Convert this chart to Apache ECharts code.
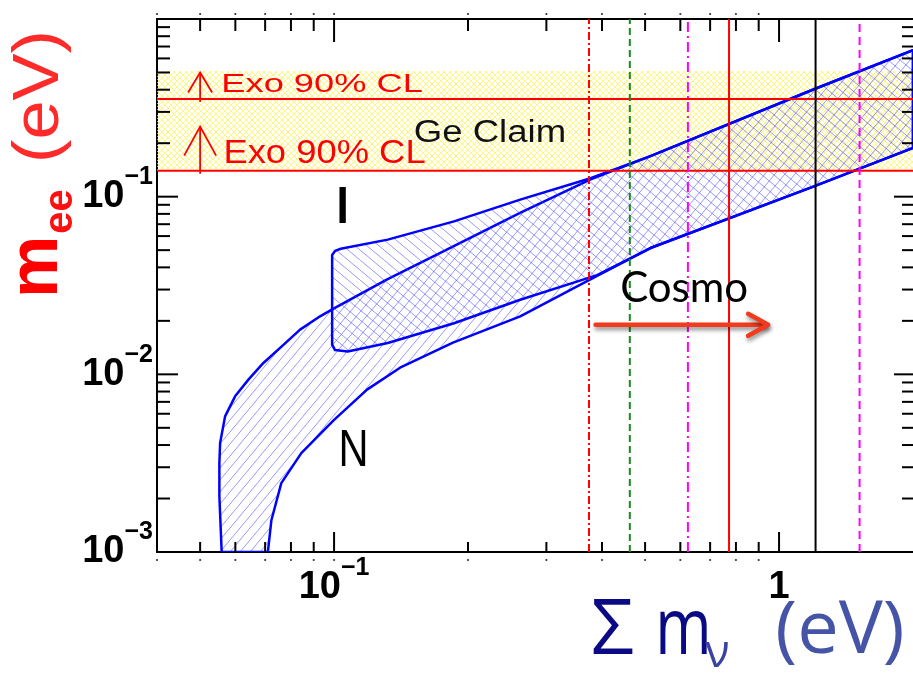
<!DOCTYPE html>
<html><head><meta charset="utf-8">
<script src="https://cdn.jsdelivr.net/npm/echarts@6/dist/echarts.min.js"></script>
<style>html,body{margin:0;padding:0;background:#fff;}#c{width:913px;height:675px;}</style>
</head><body><div id="c"></div>
<script>
// ---------------- data ----------------
const xRange = [0.04, 2];
const yRange = [0.001, 1];
const xMajorTicks = [0.1, 1];
const xMinorTicks = [0.05,0.06,0.07,0.08,0.09,0.2,0.3,0.4,0.5,0.6,0.7,0.8,0.9];
const xDotTicks = [0.04,0.05,0.06,0.07,0.08,0.09,0.1,0.2,0.3,0.4,0.5,0.6,0.7,0.8,0.9];
const yMajorTicks = [0.01, 0.1];
const yMinorTicks = [0.002,0.003,0.004,0.005,0.006,0.007,0.008,0.009,
                     0.02,0.03,0.04,0.05,0.06,0.07,0.08,0.09,
                     0.2,0.3,0.4,0.5,0.6,0.7,0.8,0.9];
const xLabelValues = [0.1, 1];
const xLabelBase = ['10', '1'];
const xLabelExp = ['\u22121', ''];
const yLabelValues = [0.001, 0.01, 0.1];
const yLabelBase = ['10', '10', '10'];
const yLabelExp = ['\u22123', '\u22122', '\u22121'];

// Normal hierarchy region (N): upper edge left->right, then lower edge right->left
const normalBoundary = [
  [0.0559,0.001],[0.05524,0.00206],[0.05524,0.00317],[0.05545,0.00411],[0.05689,0.0058],[0.05992,0.00752],
  [0.06419,0.00934],[0.06937,0.01159],[0.07628,0.01437],[0.08387,0.01785],[0.09301,0.02121],[0.09881,0.02312],
  [0.1313,0.03411],[0.1853,0.05251],[0.2618,0.08094],[0.3762,0.1246],[0.514,0.169],[1.194,0.401],[2,0.667],
  [2,0.188],[1.194,0.114],[0.514,0.0514],[0.39,0.0358],[0.262,0.0212],[0.185,0.01508],[0.1407,0.0109],
  [0.1186,0.0082],[0.1,0.00554],[0.0844,0.0036],[0.0761,0.00244],[0.0723,0.00151],[0.071,0.001]
];
// Inverted hierarchy region (I)
const invertedBoundary = [
  [0.099,0.0147],[0.099,0.047],[0.1005,0.0495],[0.1035,0.0509],[0.132,0.0573],[0.186,0.0726],
  [0.262,0.0962],[0.377,0.127],[0.514,0.169],[1.194,0.401],[2,0.667],
  [2,0.188],[1.194,0.114],[0.514,0.0514],[0.39,0.0362],[0.262,0.0263],[0.186,0.0194],[0.132,0.015],
  [0.1073,0.01344],[0.1005,0.0137]
];
const geClaimBand = [0.14, 0.51];
const exoLimits = [0.355, 0.14];
const vLineValues = [0.374, 0.462, 0.624, 0.772, 1.208, 1.517];
const exoArrowX = [0.05, 0.05];
const exoArrowBase = [0.355, 0.14];
const exoArrowTip = [0.5, 0.248];
const cosmoArrowX = [0.387, 0.945];
const cosmoArrowY = [0.019, 0.019];
const annotTexts = ['Exo 90% CL', 'Exo 90% CL', 'Ge Claim', 'I', 'N', 'Cosmo'];
const annotX = [0.0558, 0.0564, 0.151, 0.1045, 0.1106, 0.612];
const annotY = [0.422, 0.1747, 0.228, 0.0856, 0.00366, 0.0303];

// ---------------- styles ----------------
const vLineStyles = [
  {color:'#ff0000', type:[8,3,2,3]},
  {color:'#1a8a1a', type:[7,4]},
  {color:'#ff00ff', type:[10,4,2,4]},
  {color:'#ff0000', type:'solid'},
  {color:'#000000', type:'solid'},
  {color:'#ff00ff', type:[8,5]}
];
const annotStyles = [
  {font:'25px "Liberation Sans"', fill:'#ff0000', align:'left', sx:1.45},
  {font:'34px "Liberation Sans"', fill:'#ff0000', align:'left', sx:1.07},
  {font:'31px "Liberation Sans"', fill:'#111111', align:'left', sx:1.18},
  {font:'bold 52px "Liberation Sans"', fill:'#000000', align:'center', sx:0.85},
  {font:'52px "Liberation Sans"', fill:'#000000', align:'center', sx:0.8},
  {font:'42px Lato', fill:'#000000', align:'center', sx:1}
];
const exoHead = [[20,12],[29,16]];

function hatch(w, h, color, lw, dirs) {
  const c = document.createElement('canvas');
  c.width = w; c.height = h;
  const g = c.getContext('2d');
  g.strokeStyle = color; g.lineWidth = lw;
  g.beginPath();
  dirs.forEach(d => {
    [-w, 0, w].forEach(off => {
      if (d === '/') { g.moveTo(off, h); g.lineTo(off + w, 0); }
      else { g.moveTo(off, 0); g.lineTo(off + w, h); }
    });
  });
  g.stroke();
  return {image: c, repeat: 'repeat'};
}
const yellowPat = hatch(6, 6, 'rgba(255,245,70,0.7)', 1, ['/','\\']);
const normalPat = hatch(10, 12, 'rgba(70,70,255,0.55)', 1, ['/']);
const invertedPat = hatch(12, 10, 'rgba(70,70,255,0.55)', 1, ['\\']);

function labelFmt(values, base, exp) {
  return function (v) {
    const lv = Math.log10(v);
    for (let i = 0; i < values.length; i++) {
      if (Math.abs(lv - Math.log10(values[i])) < 1e-6) {
        return exp[i] ? '{b|' + base[i] + '}{s|' + exp[i] + '}' : '{b|' + base[i] + '}';
      }
    }
    return '';
  };
}
const labelRich = {
  b: {fontSize:38, fontWeight:'bold', fontFamily:'Liberation Sans', color:'#000', lineHeight:64, verticalAlign:'middle'},
  s: {fontSize:25, fontWeight:'bold', fontFamily:'Liberation Sans', color:'#000', lineHeight:24, verticalAlign:'top'}
};

function polySeries(points, pattern, z) {
  return {
    type:'custom', xAxisIndex:0, yAxisIndex:0, z:z, silent:true, clip:true,
    data: points,
    renderItem: function (params, api) {
      if (params.dataIndex !== 0) return null;
      const pts = points.map(p => api.coord(p));
      return {type:'polygon', shape:{points: pts},
        style:{fill: pattern, stroke:'#0000ff', lineWidth:2.5, lineJoin:'round'}};
    }
  };
}

const series = [];
// Ge claim band
series.push({
  type:'custom', z:1, silent:true, data:[[xRange[0], geClaimBand[0]],[xRange[1], geClaimBand[1]]],
  renderItem: function (params, api) {
    if (params.dataIndex !== 0) return null;
    const a = api.coord([xRange[0], geClaimBand[1]]);
    const b = api.coord([xRange[1], geClaimBand[0]]);
    return {type:'rect', shape:{x:a[0], y:a[1], width:b[0]-a[0], height:b[1]-a[1]}, style:{fill: yellowPat}};
  }
});
series.push(polySeries(normalBoundary, normalPat, 2));
series.push(polySeries(invertedBoundary, invertedPat, 2));
// horizontal Exo lines
exoLimits.forEach(v => series.push({
  type:'line', z:3, silent:true, symbol:'none', animation:false,
  data:[[xRange[0], v],[xRange[1], v]], lineStyle:{color:'#ff0000', width:2}
}));
// vertical lines
vLineValues.forEach((v, i) => series.push({
  type:'line', z:3, silent:true, symbol:'none', animation:false,
  data:[[v, yRange[0]],[v, yRange[1]]],
  lineStyle:{color:vLineStyles[i].color, width:2, type:vLineStyles[i].type}
}));
// exo arrows
series.push({
  type:'custom', z:5, silent:true, data: exoArrowX.map((x, i) => [x, exoArrowTip[i]]),
  renderItem: function (params, api) {
    const i = params.dataIndex;
    const b = api.coord([exoArrowX[i], exoArrowBase[i]]);
    const t = api.coord([exoArrowX[i], exoArrowTip[i]]);
    const h = exoHead[i];
    return {type:'group', children:[
      {type:'line', shape:{x1:b[0], y1:b[1]+3, x2:t[0], y2:t[1]}, style:{stroke:'#ff0000', lineWidth:1.8}},
      {type:'polyline', shape:{points:[[t[0]-h[1], t[1]+h[0]],[t[0], t[1]],[t[0]+h[1], t[1]+h[0]]]},
        style:{stroke:'#ff0000', lineWidth:1.8, fill:null}}
    ]};
  }
});
// cosmo arrow
series.push({
  type:'custom', z:5, silent:true, data: cosmoArrowX.map((x, i) => [x, cosmoArrowY[i]]),
  renderItem: function (params, api) {
    if (params.dataIndex !== 0) return null;
    const a = api.coord([cosmoArrowX[0], cosmoArrowY[0]]);
    const b = api.coord([cosmoArrowX[1], cosmoArrowY[1]]);
    const st = {stroke:'#f23a1c', lineWidth:4.5, lineCap:'round', lineJoin:'round', fill:null,
      shadowBlur:4, shadowColor:'rgba(0,0,0,0.45)', shadowOffsetX:1, shadowOffsetY:3};
    return {type:'group', children:[
      {type:'line', shape:{x1:a[0], y1:a[1], x2:b[0]-2, y2:b[1]}, style:st},
      {type:'polyline', shape:{points:[[b[0]-20, b[1]-11],[b[0], b[1]],[b[0]-20, b[1]+11]]}, style:st}
    ]};
  }
});
// annotations
series.push({
  type:'custom', z:6, silent:true, data: annotX.map((x, i) => [x, annotY[i]]),
  renderItem: function (params, api) {
    const i = params.dataIndex;
    const p = api.coord([annotX[i], annotY[i]]);
    const s = annotStyles[i];
    return {type:'text', x:p[0], y:p[1], scaleX:s.sx,
      style:{text:annotTexts[i], font:s.font, fill:s.fill, textAlign:s.align, textVerticalAlign:'middle'}};
  }
});
// x ticks
const xTickAll = xMajorTicks.concat(xMinorTicks);
series.push({
  type:'custom', z:7, silent:true, clip:false, data: xTickAll.map(v => [v, yRange[0]]),
  renderItem: function (params, api) {
    const v = xTickAll[params.dataIndex];
    const major = xMajorTicks.indexOf(v) >= 0;
    const cs = params.coordSys;
    const px = api.coord([v, yRange[0]])[0];
    const bot = cs.y + cs.height, top = cs.y;
    const lb = major ? 20 : 10, lt = major ? 23 : 12;
    return {type:'group', children:[
      {type:'line', shape:{x1:px, y1:bot, x2:px, y2:bot-lb}, style:{stroke:'#000', lineWidth:2}},
      {type:'line', shape:{x1:px, y1:top, x2:px, y2:top+lt}, style:{stroke:'#000', lineWidth:2}}
    ]};
  }
});
// tick dots
series.push({
  type:'custom', z:7, silent:true, clip:false, data: xDotTicks.map(v => [v, yRange[0]]),
  renderItem: function (params, api) {
    const v = xDotTicks[params.dataIndex];
    const cs = params.coordSys;
    const px = api.coord([v, yRange[0]])[0];
    return {type:'group', children:[
      {type:'circle', shape:{cx:px, cy:cs.y + cs.height + 8, r:1.1}, style:{fill:'#333'}},
      {type:'circle', shape:{cx:px, cy:cs.y - 5, r:1.1}, style:{fill:'#333'}}
    ]};
  }
});
// y ticks
const yTickAll = yMajorTicks.concat(yMinorTicks);
series.push({
  type:'custom', z:7, silent:true, clip:false, data: yTickAll.map(v => [xRange[0], v]),
  renderItem: function (params, api) {
    const v = yTickAll[params.dataIndex];
    const major = yMajorTicks.indexOf(v) >= 0;
    const cs = params.coordSys;
    const py = api.coord([xRange[0], v])[1];
    const l = cs.x, r = cs.x + cs.width;
    const ll = major ? 21 : 13, lr = major ? 19 : 11;
    return {type:'group', children:[
      {type:'line', shape:{x1:l, y1:py, x2:l+ll, y2:py}, style:{stroke:'#000', lineWidth:2}},
      {type:'line', shape:{x1:r, y1:py, x2:r-lr, y2:py}, style:{stroke:'#000', lineWidth:2}}
    ]};
  }
});

const option = {
  animation:false,
  backgroundColor:'#ffffff',
  grid:{left:157, right:0, top:19, bottom:123, containLabel:false, outerBoundsMode:'none'},
  xAxis:[
    {type:'log', logBase:10, min:xRange[0], max:xRange[1], position:'bottom',
      axisLine:{show:true, lineStyle:{color:'#000', width:2}},
      axisTick:{show:false}, splitLine:{show:false}, minorTick:{show:false},
      axisLabel:{show:true, margin:4, formatter:labelFmt(xLabelValues, xLabelBase, xLabelExp), rich:labelRich,
        showMinLabel:true, showMaxLabel:true, hideOverlap:false}},
    {type:'log', logBase:10, min:xRange[0], max:xRange[1], position:'top',
      axisLine:{show:true, onZero:false, lineStyle:{color:'#000', width:2}},
      axisTick:{show:false}, splitLine:{show:false}, axisLabel:{show:false}}
  ],
  yAxis:[
    {type:'log', logBase:10, min:yRange[0], max:yRange[1], position:'left',
      axisLine:{show:true, onZero:false, lineStyle:{color:'#000', width:2}},
      axisTick:{show:false}, splitLine:{show:false},
      axisLabel:{show:true, margin:4, formatter:labelFmt(yLabelValues, yLabelBase, yLabelExp), rich:labelRich,
        showMinLabel:true, showMaxLabel:true, hideOverlap:false}}
  ],
  graphic:[
    {type:'group', x:0, y:300, rotation:Math.PI/2, silent:true, children:[
      {type:'text', x:33, y:38, style:{text:'m', font:'bold 70px "Liberation Sans"', fill:'#ff0000', textAlign:'center', textVerticalAlign:'middle'}},
      {type:'text', x:88.5, y:61, style:{text:'ee', font:'bold 40px "Liberation Sans"', fill:'#ff1010', textAlign:'center', textVerticalAlign:'middle'}},
      {type:'text', x:203.5, y:40, scaleX:1.1, style:{text:'(eV)', font:'64px "Liberation Sans"', fill:'#ff2a2a', textAlign:'center', textVerticalAlign:'middle'}}
    ]},
    {type:'text', x:612.5, y:632.5, silent:true, style:{text:'\u03A3', font:'76px "Open Sans"', fill:'#0a0a85', textAlign:'center', textVerticalAlign:'middle'}},
    {type:'text', x:683.5, y:631.7, scaleX:0.78, silent:true, style:{text:'m', font:'78px "Open Sans"', fill:'#0a0a85', textAlign:'center', textVerticalAlign:'middle'}},
    {type:'text', x:717.5, y:654.5, silent:true, style:{text:'\u03BD', font:'45px "Open Sans"', fill:'#3a44a0', textAlign:'center', textVerticalAlign:'middle'}},
    {type:'text', x:840, y:632.3, silent:true, style:{text:'(eV)', font:'74px "Open Sans"', fill:'#4654a8', textAlign:'center', textVerticalAlign:'middle'}}
  ],
  series: series
};
const chart = echarts.init(document.getElementById('c'));
chart.setOption(option);
</script>
</body></html>
